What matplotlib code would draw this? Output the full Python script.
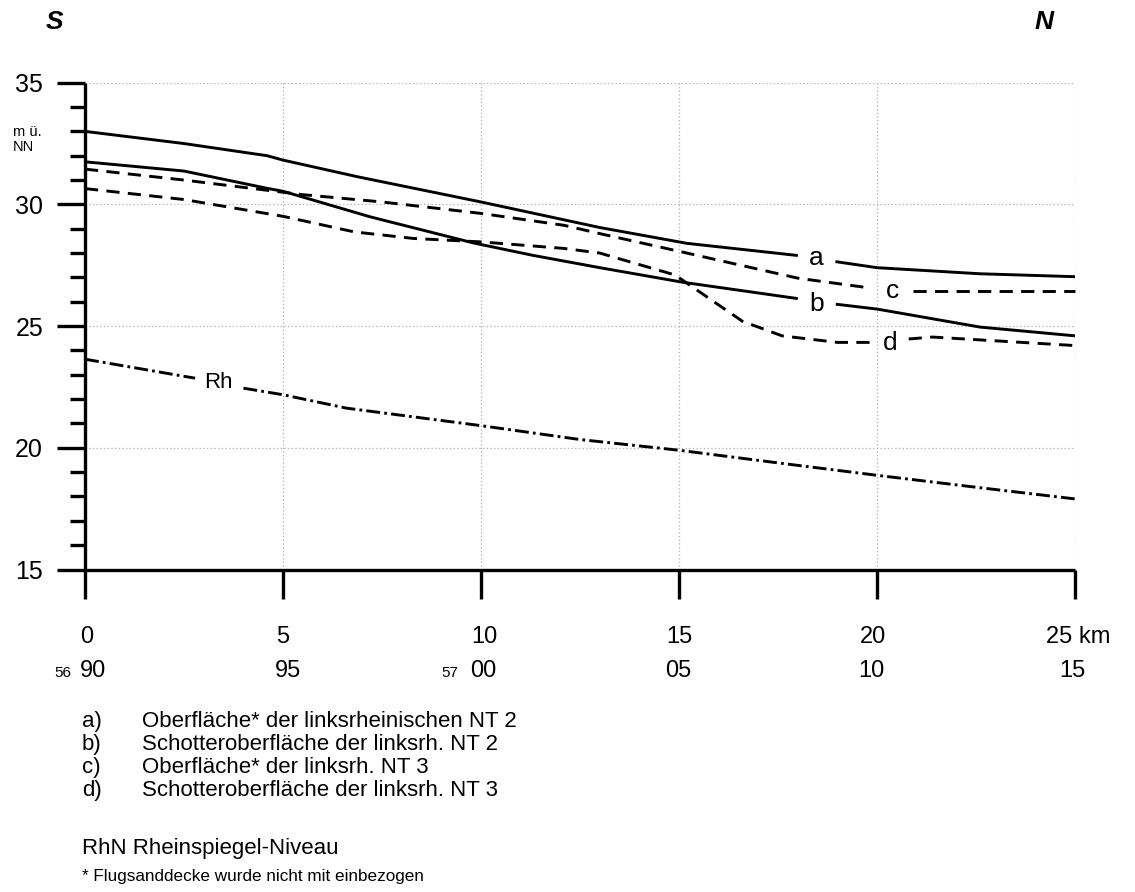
import numpy as np
import matplotlib
matplotlib.use("Agg")
import matplotlib.pyplot as plt

plt.rcParams['font.family'] = ['Liberation Sans', 'DejaVu Sans']
plt.rcParams['lines.scale_dashes'] = False

# ---------------- data ----------------
km_a = [0, 2.5, 4.6, 5.0, 6.9, 10.0, 13.0, 15.2, 18.0, 18.95, 20.0, 22.6, 25]
h_a = [33.0, 32.5, 32.0, 31.82, 31.13, 30.1, 29.05, 28.4, 27.9, 27.65, 27.4, 27.15, 27.03]

km_b = [0, 2.5, 4.6, 5.0, 7.2, 9.8, 11.3, 13.0, 15.1, 18.0, 18.96, 20.0, 22.6, 25]
h_b = [31.75, 31.37, 30.66, 30.54, 29.49, 28.42, 27.91, 27.4, 26.8, 26.13, 25.9, 25.7, 24.96, 24.6]

km_c = [0, 2.5, 4.6, 5.5, 7.5, 10.0, 12.1, 13.0, 15.2, 18.0, 19.85, 20.9, 25]
h_c = [31.45, 31.0, 30.58, 30.4, 30.1, 29.63, 29.14, 28.8, 28.0, 26.97, 26.56, 26.45, 26.45]

km_d = [0, 2.5, 5.0, 6.8, 8.3, 10.0, 12.1, 13.0, 14.9, 16.6, 17.6, 19.0, 19.85, 20.8, 21.4, 25]
h_d = [30.65, 30.2, 29.51, 28.87, 28.6, 28.46, 28.19, 28.0, 27.1, 25.2, 24.6, 24.33, 24.33, 24.47, 24.55, 24.2]

km_rh = [0, 2.78, 4.0, 5.0, 6.6, 10.0, 12.5, 15.0, 17.5, 20.0, 22.6, 25]
h_rh = [23.64, 22.86, 22.45, 22.18, 21.63, 20.91, 20.34, 19.9, 19.38, 18.87, 18.36, 17.9]

series_names = ['a', 'b', 'c', 'd', 'Rh']
label_gaps = {'a': (18.0, 18.95), 'b': (18.0, 18.96), 'c': (19.85, 20.9),
              'd': (19.85, 20.8), 'Rh': (2.78, 4.0)}
label_pos = {'a': (18.47, 27.78), 'b': (18.47, 25.9), 'c': (20.38, 26.45),
             'd': (20.33, 24.3), 'Rh': (3.38, 22.7)}

km_ticks = [0, 5, 10, 15, 20, 25]
km_labels = ['0', '5', '10', '15', '20', '25 km']
rw_labels = ['90', '95', '00', '05', '10', '15']
rw_prefix = {0: '56', 10: '57'}
y_ticks = [15, 20, 25, 30, 35]

legend_keys = ['a)', 'b)', 'c)', 'd)']
legend_texts = ['Oberfläche* der linksrheinischen NT 2',
                'Schotteroberfläche der linksrh. NT 2',
                'Oberfläche* der linksrh. NT 3',
                'Schotteroberfläche der linksrh. NT 3']
rhn_text = 'RhN Rheinspiegel-Niveau'
footnote = '* Flugsanddecke wurde nicht mit einbezogen'

# ---------------- figure ----------------
W, H = 1135, 892
fig = plt.figure(figsize=(W / 100, H / 100), dpi=100)
ax = fig.add_axes([85 / W, 1 - 569.5 / H, (1075 - 85) / W, (569.5 - 82.7) / H])
ax.set_xlim(0, 25)
ax.set_ylim(15, 35)

PX = 1 / 1.389  # pixel -> points

styles = {
    'a': dict(ls='-'),
    'b': dict(ls='-'),
    'c': dict(ls=(0, (9.5, 6))),
    'd': dict(ls=(0, (9.5, 6))),
    'Rh': dict(ls=(0, (10, 3, 2, 3))),
}
data = {'a': (km_a, h_a), 'b': (km_b, h_b), 'c': (km_c, h_c), 'd': (km_d, h_d),
        'Rh': (km_rh, h_rh)}

for name in series_names:
    x, y = np.array(data[name][0]), np.array(data[name][1])
    g0, g1 = label_gaps[name]
    for m in (x <= g0, x >= g1):
        ax.plot(x[m], y[m], color='black', lw=2.1, clip_on=False,
                solid_capstyle='butt', dash_capstyle='butt', **styles[name])
    lx, ly = label_pos[name]
    ax.text(lx, ly, name, fontsize=19 if name != 'Rh' else 16,
            ha='center', va='center')

# grid
ax.set_xticks(km_ticks)
ax.set_yticks(y_ticks)
ax.set_yticks(np.arange(15, 36, 1), minor=True)
ax.grid(True, which='major', color='#b5b5b5', ls=':', lw=0.9)
ax.set_axisbelow(True)

for s in ['top', 'right']:
    ax.spines[s].set_visible(False)
for s in ['left', 'bottom']:
    ax.spines[s].set_linewidth(2.4)
    ax.spines[s].set_capstyle('butt')

ax.tick_params(axis='x', which='major', direction='out', length=29 * PX, width=2.4,
               labelbottom=False)
ax.tick_params(axis='y', which='major', direction='out', length=28 * PX, width=2.4,
               labelsize=18, pad=14 * PX)
ax.tick_params(axis='y', which='minor', direction='out', length=15 * PX, width=2.4)
ax.set_yticklabels([str(v) for v in y_ticks])

# x labels (two rows)
row1_dx = [2, 0, 3, 0, -4.5, -29]
row2_left = [-5, -8, -11, -14, -19, -16]
for i, (k, l1, l2) in enumerate(zip(km_ticks, km_labels, rw_labels)):
    ha1 = 'left' if i == len(km_ticks) - 1 else 'center'
    ax.annotate(l1, xy=(k, 0), xycoords=('data', 'axes fraction'),
                xytext=(row1_dx[i] * PX, -74 * PX), textcoords='offset points',
                ha=ha1, va='baseline', fontsize=17, annotation_clip=False)
    ax.annotate(l2, xy=(k, 0), xycoords=('data', 'axes fraction'),
                xytext=(row2_left[i] * PX, -107.5 * PX), textcoords='offset points',
                ha='left', va='baseline', fontsize=17, annotation_clip=False)
    if k in rw_prefix:
        off = -14 if k == 0 else -23
        ax.annotate(rw_prefix[k], xy=(k, 0), xycoords=('data', 'axes fraction'),
                    xytext=(off * PX, -107.5 * PX), textcoords='offset points',
                    ha='right', va='baseline', fontsize=11, annotation_clip=False)

# unit label
fig.text(13 / W, 1 - 125 / H, 'm ü.\nNN', fontsize=10.5, ha='left', va='top',
         linespacing=1.05)

# S / N
fig.text(54 / W, 1 - 22 / H, 'S', fontsize=19, fontweight='bold', fontstyle='italic',
         ha='center', va='center')
fig.text(1044 / W, 1 - 22 / H, 'N', fontsize=19, fontweight='bold', fontstyle='italic',
         ha='center', va='center')

# legend text (baselines)
ys = [727, 750, 773, 796]
for yk, k, t in zip(ys, legend_keys, legend_texts):
    fig.text(82 / W, 1 - yk / H, k, fontsize=16, ha='left', va='baseline')
    fig.text(142 / W, 1 - yk / H, t, fontsize=16, ha='left', va='baseline')
fig.text(82 / W, 1 - 854 / H, rhn_text, fontsize=16, ha='left', va='baseline')
fig.text(82 / W, 1 - 881 / H, footnote, fontsize=12.3, ha='left', va='baseline')

fig.savefig('out.png', dpi=100, facecolor='white')
